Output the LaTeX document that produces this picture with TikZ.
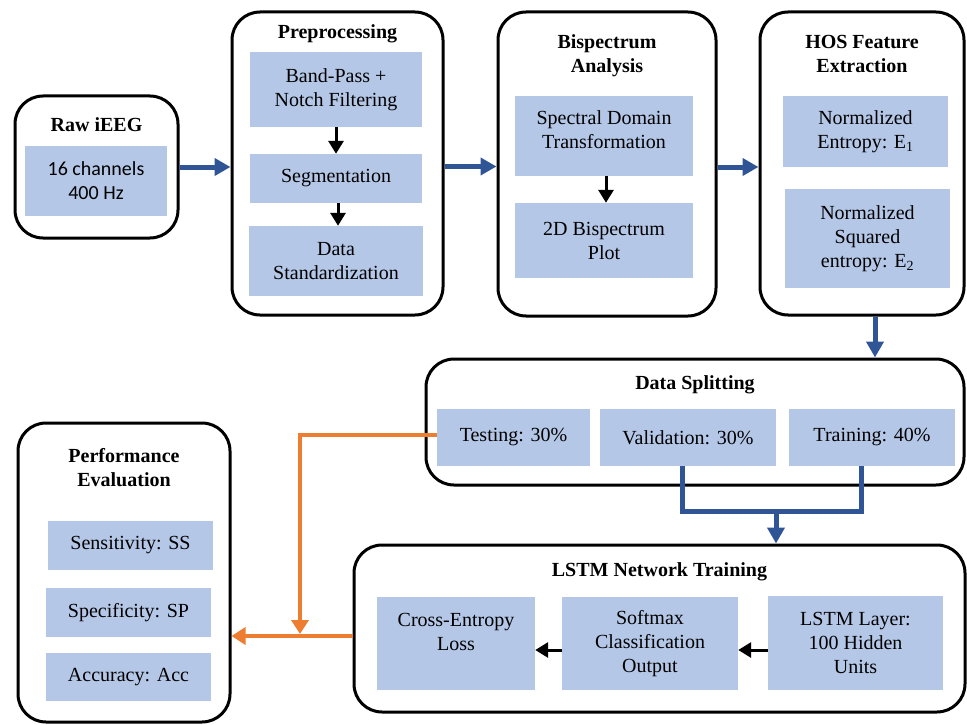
\documentclass[tikz,border=0pt]{standalone}
\usepackage{fontspec}
\setmainfont{Liberation Serif}
\newfontfamily\calibri{Carlito}
\usetikzlibrary{arrows.meta}
\definecolor{boxfill}{HTML}{B4C7E7}
\definecolor{flowblue}{HTML}{2F5597}
\definecolor{flowor}{HTML}{ED7D31}
\begin{document}
\begin{tikzpicture}[x=1pt,y=-1pt,
  outer/.style={draw=black, line width=3pt, rounded corners=28pt, fill=white, inner sep=0pt},
  inbox/.style={fill=boxfill, draw=none, inner sep=0pt, align=center,
    font=\fontsize{20}{24}\selectfont},
  title/.style={align=center, font=\fontsize{20}{24}\selectfont\bfseries},
  bluearrow/.style={draw=flowblue, line width=5pt, -{Triangle[length=16pt,width=17pt]}},
  blueline/.style={draw=flowblue, line width=5pt},
  blackarrow/.style={draw=black, line width=3pt, -{Triangle[length=13pt,width=15pt]}},
  orarrow/.style={draw=flowor, line width=4pt, -{Triangle[length=14pt,width=17pt]}}]
\useasboundingbox (0,0) rectangle (967,725);

% outer stage boxes
\node[outer, minimum width=163pt, minimum height=142pt] (raw) at (96.5,167) {};
\node[outer, minimum width=211pt, minimum height=303pt] (pre) at (337.5,163.5) {};
\node[outer, minimum width=218pt, minimum height=304pt] (bis) at (607,164) {};
\node[outer, minimum width=204pt, minimum height=303pt] (hos) at (862,163.5) {};
\node[outer, minimum width=538pt, minimum height=126pt] (split) at (695,422) {};
\node[outer, minimum width=611pt, minimum height=167pt] (lstm) at (659.5,628.5) {};
\node[outer, minimum width=212pt, minimum height=299pt] (perf) at (124,572.5) {};

% stage titles
\node[title] (rawt) at (96.5,125) {Raw iEEG};
\node[title] (pret) at (337.5,34) {Preprocessing};
\node[title] (bist) at (607,56) {Bispectrum\\Analysis};
\node[title] (host) at (862,53.5) {HOS Feature\\Extraction};
\node[title] (splitt) at (695,385) {Data Splitting};
\node[title] (lstmt) at (659.5,572) {LSTM Network Training};
\node[title] (perft) at (124,468) {Performance\\Evaluation};

% inner blocks
\node[inbox, font=\fontsize{20}{24}\calibri, minimum width=142pt, minimum height=70pt] (rawin) at (96,181) {16 channels\\400 Hz};
\node[inbox, minimum width=172pt, minimum height=75pt] (bp) at (336,89.5) {Band-Pass +\\Notch Filtering};
\node[inbox, minimum width=172pt, minimum height=49pt] (seg) at (336,178.5) {Segmentation};
\node[inbox, minimum width=174pt, minimum height=70pt] (std) at (336,261) {Data\\Standardization};
\node[inbox, minimum width=178pt, minimum height=80pt] (sdt) at (604,136) {Spectral Domain\\Transformation\\[-12pt]~};
\node[inbox, minimum width=178pt, minimum height=75pt] (bsp) at (604,240.5) {2D Bispectrum\\Plot};
\node[inbox, minimum width=165pt, minimum height=71pt] (e1) at (865.5,131.5) {Normalized\\Entropy: E\textsubscript{1}};
\node[inbox, minimum width=165pt, minimum height=99pt] (e2) at (867.5,238.5) {Normalized\\Squared\\entropy: E\textsubscript{2}};
\node[inbox, minimum width=153pt, minimum height=57pt] (test) at (513.5,437.5) {Testing: 30\%};
\node[inbox, minimum width=176pt, minimum height=57pt] (val) at (688,437.5) {Validation: 30\%};
\node[inbox, minimum width=166pt, minimum height=57pt] (train) at (872,437.5) {Training: 40\%};
\node[inbox, minimum width=158pt, minimum height=93pt] (ce) at (456,643.5) {Cross-Entropy\\Loss\\~};
\node[inbox, minimum width=176pt, minimum height=93pt] (sm) at (650,643.5) {Softmax\\Classification\\Output};
\node[inbox, minimum width=175pt, minimum height=94pt] (ll) at (855.5,643) {LSTM Layer:\\100 Hidden\\Units};
\node[inbox, minimum width=165pt, minimum height=49pt] (ss) at (130.5,545.5) {Sensitivity: SS};
\node[inbox, minimum width=165pt, minimum height=49pt] (sp) at (128.5,612.5) {Specificity: SP};
\node[inbox, minimum width=165pt, minimum height=48pt] (acc) at (128.5,677) {Accuracy: Acc};

% main flow between stages
\draw[bluearrow] (raw.east) -- (raw.east -| pre.west);
\draw[bluearrow] ([yshift=-3pt]pre.east) -- ([yshift=-3pt]pre.east -| bis.west);
\draw[bluearrow] ([yshift=-3pt]bis.east) -- ([yshift=-3pt]bis.east -| hos.west);
\draw[bluearrow] ([xshift=13pt]hos.south) -- ([xshift=13pt]hos.south |- split.north);

% validation and training sets merge into the network training
\coordinate (vbot) at (682,511);
\coordinate (tbot) at (861,511);
\coordinate (merge) at (776,511);
\draw[blueline] (vbot |- val.south) -- (vbot) -- ([xshift=2.5pt]tbot);
\draw[blueline] (tbot) -- (tbot |- train.south);
\draw[bluearrow] (merge) -- (merge |- lstm.north);

% steps inside the stages
\draw[blackarrow] (bp.south) -- (seg.north);
\draw[blackarrow] ([xshift=2pt]seg.south) -- ([xshift=2pt]std.north);
\draw[blackarrow] ([xshift=2pt]sdt.south) -- ([xshift=2pt]bsp.north);
\draw[blackarrow] ([yshift=-6.5pt]sm.west) -- ([yshift=-6.5pt]sm.west -| ce.east);
\draw[blackarrow] ([yshift=-7pt]ll.west) -- ([yshift=-7pt]ll.west -| sm.east);

% testing set and trained network feed the evaluation
\coordinate (odrop) at (300,435);
\coordinate (ojoin) at (300,634);
\draw[orarrow] ([yshift=2.5pt]test.west) -- (odrop) -- (ojoin);
\draw[orarrow] ([yshift=-7.5pt]lstm.west) -- ([yshift=-7.5pt]lstm.west -| perf.east);
\end{tikzpicture}
\end{document}
